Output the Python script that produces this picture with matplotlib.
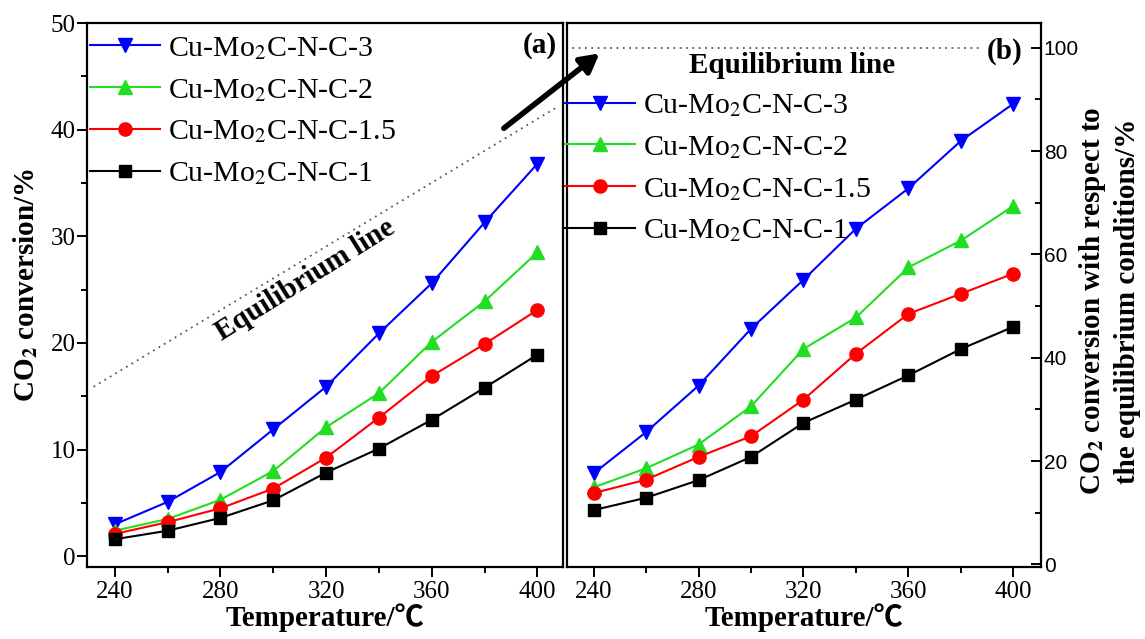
import matplotlib
matplotlib.use('Agg')
import matplotlib.pyplot as plt
from matplotlib.ticker import MultipleLocator
from matplotlib.patches import FancyArrowPatch

plt.rcParams['font.family'] = ['Liberation Serif', 'Noto Sans CJK SC', 'DejaVu Serif']
plt.rcParams['mathtext.fontset'] = 'stix'

# ---------------- data ----------------
temperature = [240, 260, 280, 300, 320, 340, 360, 380, 400]
series_labels = ['Cu-Mo$_2$C-N-C-3', 'Cu-Mo$_2$C-N-C-2',
                 'Cu-Mo$_2$C-N-C-1.5', 'Cu-Mo$_2$C-N-C-1']

# (a) CO2 conversion / %
conv_3 = [3.0, 5.1, 7.9, 11.9, 15.9, 20.9, 25.6, 31.3, 36.8]
conv_2 = [2.4, 3.5, 5.3, 8.0, 12.1, 15.3, 20.1, 23.9, 28.5]
conv_15 = [2.1, 3.2, 4.5, 6.35, 9.25, 13.0, 16.9, 19.9, 23.1]
conv_1 = [1.6, 2.4, 3.6, 5.25, 7.85, 10.1, 12.8, 15.8, 18.9]

# (b) CO2 conversion relative to equilibrium / %
rel_3 = [17.6, 25.6, 34.6, 45.6, 55.1, 65.0, 72.8, 82.0, 89.2]
rel_2 = [14.9, 18.6, 23.2, 30.6, 41.7, 47.8, 57.5, 62.7, 69.4]
rel_15 = [13.8, 16.4, 20.8, 24.8, 31.9, 40.8, 48.5, 52.4, 56.3]
rel_1 = [10.5, 12.9, 16.3, 20.8, 27.4, 31.9, 36.6, 41.7, 46.0]

# equilibrium lines
eq_temp_a = [232, 408]
eq_conv_a = [15.9, 42.2]
eq_temp_b = [229.7, 388.5]
eq_conv_b = [100, 100]

colors = ['#0000ff', '#22dd22', '#ff0000', '#000000']
markers = ['v', '^', 'o', 's']
msizes = [10, 10, 9.5, 8]

fig = plt.figure(figsize=(11.45, 6.39), dpi=100)
ax1 = fig.add_axes([0.0760, 0.1127, 0.4157, 0.8513])
ax2 = fig.add_axes([0.4952, 0.1127, 0.4140, 0.8513])

for ys, c, m, ms, lab in zip([conv_3, conv_2, conv_15, conv_1], colors, markers, msizes, series_labels):
    ax1.plot(temperature, ys, color=c, marker=m, markersize=ms, lw=1.5, label=lab)
for ys, c, m, ms, lab in zip([rel_3, rel_2, rel_15, rel_1], colors, markers, msizes, series_labels):
    ax2.plot(temperature, ys, color=c, marker=m, markersize=ms, lw=1.5, label=lab)

ax1.plot(eq_temp_a, eq_conv_a, color='0.35', lw=1.3, linestyle=(0, (1, 2.5)))
ax2.plot(eq_temp_b, eq_conv_b, color='0.35', lw=1.3, linestyle=(0, (1, 2.5)))

ax1.set_xlim(229.5, 409.7)
ax1.set_ylim(-1, 50)
ax2.set_xlim(229.9, 410.5)
ax2.set_ylim(-0.5, 104.8)

for ax in (ax1, ax2):
    ax.xaxis.set_major_locator(MultipleLocator(40))
    ax.xaxis.set_minor_locator(MultipleLocator(20))
    for s in ax.spines.values():
        s.set_linewidth(1.6)
    ax.tick_params(axis='x', which='both', direction='out', top=False, labelsize=18, pad=3)
    ax.tick_params(which='major', length=7, width=1.4)
    ax.tick_params(which='minor', length=4, width=1.4)
    ax.set_xlabel('Temperature/\u2103', fontsize=21, fontweight='bold', labelpad=0)

ax1.yaxis.set_major_locator(MultipleLocator(10))
ax1.yaxis.set_minor_locator(MultipleLocator(5))
ax1.tick_params(axis='y', which='both', direction='out', right=False, labelsize=18, pad=1)
ax1.set_ylabel('CO$_\\mathbf{2}$ conversion/%', fontsize=21, fontweight='bold')
ax1.yaxis.set_label_coords(-0.128, 0.518)
ax1.yaxis.label.set_va('center')

ax2.yaxis.tick_right()
ax2.yaxis.set_major_locator(MultipleLocator(20))
ax2.yaxis.set_minor_locator(MultipleLocator(10))
ax2.tick_params(axis='y', which='both', direction='in', left=False, right=True, labelsize=15, pad=2)
for t in ax2.get_yticklabels():
    t.set_fontfamily(['Liberation Sans', 'DejaVu Sans'])
ax2.yaxis.set_label_position('right')
ax2.set_ylabel('CO$_\\mathbf{2}$ conversion with respect to\nthe equilibrium conditions/%',
               fontsize=21, fontweight='bold', linespacing=1.3)
ax2.yaxis.set_label_coords(1.1435, 0.489)
ax2.yaxis.label.set_va('center')
ax2.yaxis.label.set_ha('center')

leg_kw = dict(frameon=False, fontsize=21.5, handlelength=2.35, handletextpad=0.25,
              labelspacing=0.5, borderaxespad=0, borderpad=0)
ax1.legend(loc='upper left', bbox_to_anchor=(0.006, 0.978), **leg_kw)
ax2.legend(loc='upper left', bbox_to_anchor=(-0.004, 0.873), **leg_kw)

ax1.text(312.3, 25.9, 'Equilibrium line', rotation=32, rotation_mode='anchor',
         ha='center', va='center', fontsize=21, fontweight='bold')
ax1.text(401, 47.9, '(a)', ha='center', va='center', fontsize=21, fontweight='bold')
ax2.text(315.5, 96.5, 'Equilibrium line', ha='center', va='center', fontsize=21, fontweight='bold')
ax2.text(396.8, 99.4, '(b)', ha='center', va='center', fontsize=21, fontweight='bold')

arrow = FancyArrowPatch((0.4381, 0.7966), (0.5255, 0.9191), transform=fig.transFigure,
                        arrowstyle='-|>,head_length=0.55,head_width=0.3', mutation_scale=20,
                        lw=4, color='black', zorder=10)
fig.add_artist(arrow)

fig.savefig('out.png', dpi=100)
